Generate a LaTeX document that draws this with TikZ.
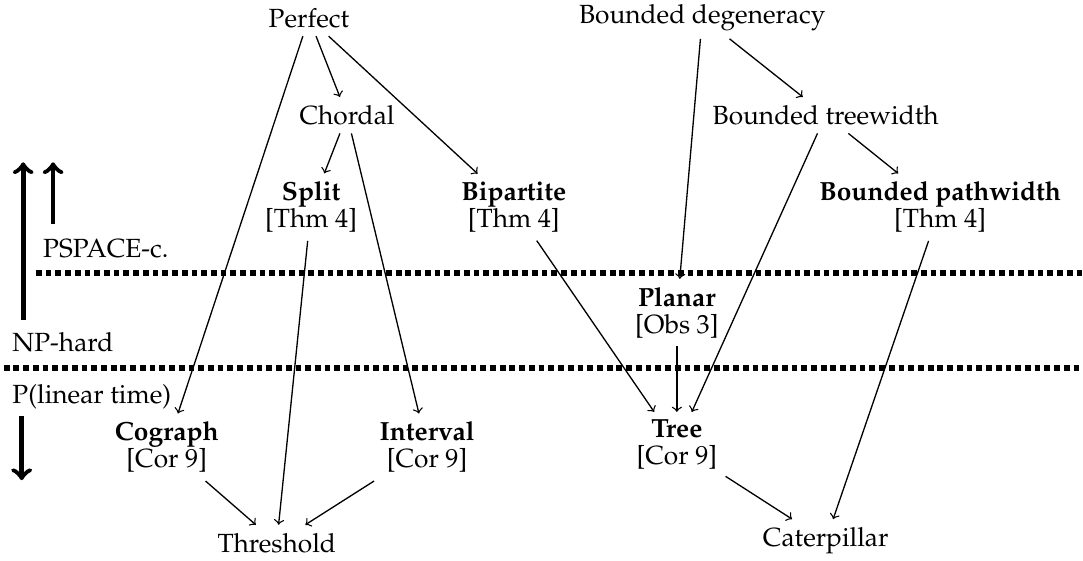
\documentclass[tikz,border=0pt]{standalone}
\usepackage[T1]{fontenc}
\usepackage{mathpazo}
\usepackage{tikz}
\usetikzlibrary{calc}
\newcommand{\cls}[2]{\textbf{#1}\\[-1.8pt]{[#2]}}
\tikzset{
  gc/.style={align=center, inner sep=3pt},
  lvl/.style={anchor=west, inner sep=0pt},
  edge/.style={->, line width=0.5pt},
  sepline/.style={line width=2.2pt, dash pattern=on 2.2pt off 1.5pt},
  bigarrow/.style={line width=1.8pt, ->},
}

\begin{document}
\begin{tikzpicture}
        \useasboundingbox (0,0) rectangle (14.48,7.50);
        % separators
        \draw[sepline] (0.48,3.85) -- (14.48,3.85);
        \draw[sepline] (0.05,2.58) -- (14.48,2.58);
        % complexity labels
        \node[lvl] (pspace) at (0.57,4.18) {PSPACE-c.};
        \node[lvl] (nph) at (0.16,2.93) {NP-hard};
        \node[lvl] (poly) at (0.16,2.19) {P(linear time)};
        \coordinate (up1a) at (0.31,3.22);
        \coordinate (up1b) at (0.31,5.33);
        \coordinate (up2a) at (0.71,4.51);
        \coordinate (up2b) at (0.71,5.33);
        \coordinate (dna) at (0.29,1.94);
        \coordinate (dnb) at (0.29,1.08);
        \draw[bigarrow] (up1a) -- (up1b);
        \draw[bigarrow] (up2a) -- (up2b);
        \draw[bigarrow] (dna) -- (dnb);
        % row 1
        \node[gc] (perfect) at (4.13,7.26) {Perfect};
        \node[gc] (degen) at (9.39,7.27) {Bounded degeneracy};
        % row 2
        \node[gc] (chordal) at (4.64,5.96) {Chordal};
        \node[gc] (treew) at (11.04,5.96) {Bounded treewidth};
        % row 3
        \node[gc] (split) at (4.16,4.73) {\cls{Split}{Thm 4}};
        \node[gc] (bip) at (6.87,4.73) {\cls{Bipartite}{Thm 4}};
        \node[gc] (pathw) at (12.57,4.73) {\cls{Bounded pathwidth}{Thm 4}};
        % row 4
        \node[gc] (planar) at (9.05,3.32) {\cls{Planar}{Obs 3}};
        % row 5
        \node[gc] (cograph) at (2.23,1.52) {\cls{Cograph}{Cor 9}};
        \node[gc] (interval) at (5.71,1.52) {\cls{Interval}{Cor 9}};
        \node[gc] (tree) at (9.05,1.55) {\cls{Tree}{Cor 9}};
        % row 6
        \node[gc] (thresh) at (3.70,0.24) {Threshold};
        \node[gc] (cater) at (11.04,0.27) {Caterpillar};

        \draw[edge] (perfect) -- (chordal);
        \draw[edge] (perfect) -- (bip);
        \draw[edge] (perfect) -- (cograph);
        \draw[edge] (chordal) -- (split);
        \draw[edge] (chordal) -- (interval);
        \draw[edge] (split) -- (thresh);
        \draw[edge] (cograph) -- (thresh);
        \draw[edge] (interval) -- (thresh);
        \draw[edge] (degen) -- (planar);
        \draw[edge] (degen) -- (treew);
        \draw[edge] (treew) -- (pathw);
        \draw[edge] (treew) -- (tree);
        \draw[edge] (bip) -- (tree);
        \draw[edge] (planar) -- (tree);
        \draw[edge] (tree) -- (cater);
        \draw[edge] (pathw) -- (cater);
    \end{tikzpicture}
\end{document}
